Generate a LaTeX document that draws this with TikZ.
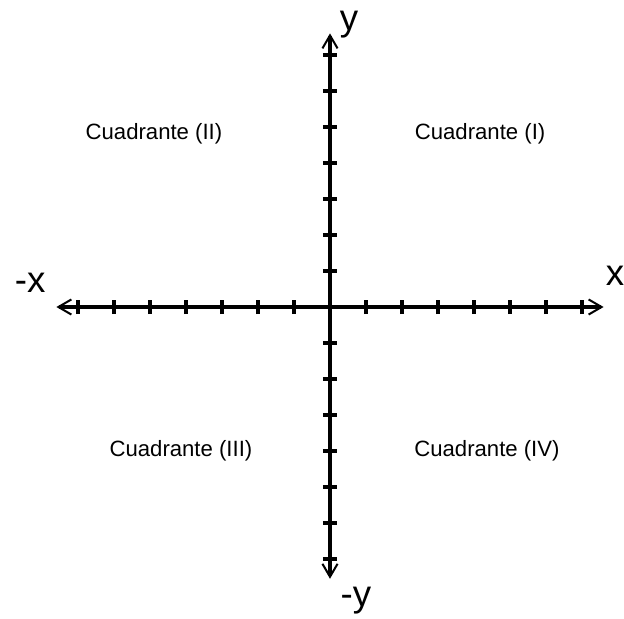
\documentclass[tikz,border=0pt]{standalone}
\usepackage{fontspec}
\setmainfont{Liberation Sans}
\usetikzlibrary{arrows.meta, positioning}
\tikzset{
  axis/.style={line width=2.4pt, Straight Barb-Straight Barb,
               arrows={[length=3.6mm, width=4.2mm, line width=1.6pt]}},
  tick/.style={line width=2.4pt},
  axlabel/.style={anchor=base, inner sep=0pt, font=\fontsize{29}{32}\selectfont},
  quad/.style={anchor=base, inner sep=0pt, font=\fontsize{17.5}{20}\selectfont},
}

\begin{document}
\begin{tikzpicture}[x=1cm, y=1cm]
  \useasboundingbox (-9.167,-8.667) rectangle (8.167,8.528);

  \coordinate (xmin) at (-7.6,0);
  \coordinate (xmax) at (7.6,0);
  \coordinate (ymin) at (0,-7.55);
  \coordinate (ymax) at (0,7.6);

  % axes
  \draw[axis] (xmin) -- (xmax);
  \draw[axis] (ymin) -- (ymax);

  % tick marks
  \foreach \k in {-7,...,-1,1,2,...,7} {
    \draw[tick] (\k,-0.2) -- (\k,0.2);
    \draw[tick] (-0.2,\k) -- (0.2,\k);
  }

  \node[axlabel] (lxneg) at (-8.33,0.39) {-x};
  \node[axlabel] (lxpos) at (7.92,0.61) {x};
  \node[axlabel] (lypos) at (0.53,7.67) {y};
  \node[axlabel] (lyneg) at (0.72,-8.31) {-y};

  \node[quad] (q1) at (4.17,4.64) {Cuadrante (I)};
  \node[quad] (q2) at (-4.89,4.64) {Cuadrante (II)};
  \node[quad] (q3) at (-4.14,-4.14) {Cuadrante (III)};
  \node[quad] (q4) at (4.36,-4.14) {Cuadrante (IV)};
\end{tikzpicture}
\end{document}
